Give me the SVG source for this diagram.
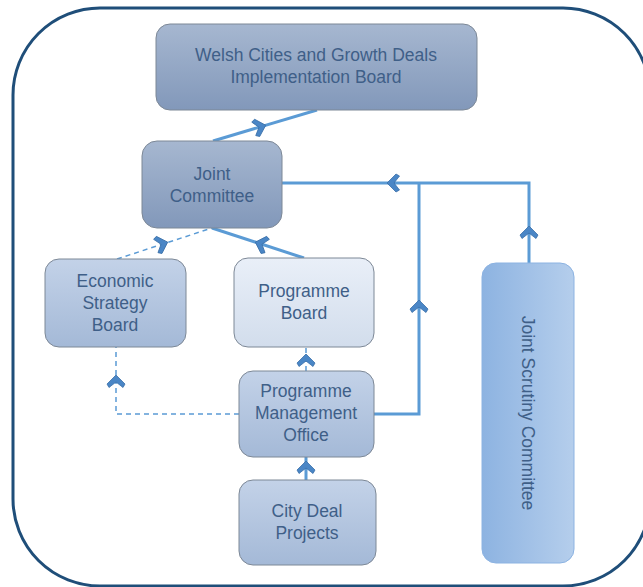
<svg xmlns="http://www.w3.org/2000/svg" xmlns:xlink="http://www.w3.org/1999/xlink" width="643" height="587" viewBox="0 0 643 587">
<defs>
<linearGradient id="gDark" x1="0" y1="0" x2="0" y2="1"><stop offset="0" stop-color="#a6b7d0"/><stop offset="1" stop-color="#8298ba"/></linearGradient>
<linearGradient id="gMid" x1="0" y1="0" x2="0" y2="1"><stop offset="0" stop-color="#c3d2e8"/><stop offset="1" stop-color="#a4b9d7"/></linearGradient>
<linearGradient id="gLight" x1="0" y1="0" x2="0" y2="1"><stop offset="0" stop-color="#e9eff8"/><stop offset="1" stop-color="#d2ddec"/></linearGradient>
<linearGradient id="gSide" x1="0" y1="0" x2="1" y2="0"><stop offset="0" stop-color="#8db3e1"/><stop offset="1" stop-color="#b5ceec"/></linearGradient>
<path id="chev" d="M0,-6 L9,3 L7,6.5 L0,1 L-7,6.5 L-9,3 Z"/>
</defs>
<style>
.node{stroke:#7d8896;stroke-width:1}
.lbl{font-family:"Liberation Sans",Arial,sans-serif;font-size:17.5px;fill:#3f5f88;text-anchor:middle}
.ln{fill:none;stroke:#5b9bd5;stroke-width:3}
.dash{fill:none;stroke:#5b9bd5;stroke-width:1.5;stroke-dasharray:5,4}
.ch{fill:#4a86c6;stroke:#3a6fa8;stroke-width:0.8}
</style>
<rect x="13" y="8" width="637" height="578" rx="87" ry="87" fill="#ffffff" stroke="#1f4e79" stroke-width="3"/>
<g id="connectors">
<line class="ln" x1="213" y1="141" x2="317" y2="110"/>
<use xlink:href="#chev" class="ch" transform="translate(260,127) rotate(73.4)"/>
<line class="ln" x1="304" y1="258" x2="212" y2="228"/>
<use xlink:href="#chev" class="ch" transform="translate(261,244) rotate(-72)"/>
<line class="dash" x1="117" y1="259" x2="212" y2="228"/>
<use xlink:href="#chev" class="ch" transform="translate(162,244) rotate(72)"/>
<line class="dash" x1="306" y1="371" x2="306" y2="347"/>
<use xlink:href="#chev" class="ch" transform="translate(306,360)"/>
<polyline class="dash" points="239,414 116,414 116,347"/>
<use xlink:href="#chev" class="ch" transform="translate(116,381)"/>
<line class="ln" x1="306" y1="480" x2="306" y2="457"/>
<use xlink:href="#chev" class="ch" transform="translate(306,467)"/>
<polyline class="ln" points="374,414 419,414 419,183"/>
<use xlink:href="#chev" class="ch" transform="translate(419,306)"/>
<polyline class="ln" points="529,263 529,183 282,183"/>
<use xlink:href="#chev" class="ch" transform="translate(529,232)"/>
<use xlink:href="#chev" class="ch" transform="translate(393,183) rotate(-90)"/>
</g>
<g id="welsh-board">
<rect class="node" x="156" y="24" width="321" height="86" rx="14" fill="url(#gDark)"/>
<text class="lbl" x="316" y="61">Welsh Cities and Growth Deals</text>
<text class="lbl" x="316" y="83">Implementation Board</text>
</g>
<g id="joint-committee">
<rect class="node" x="142" y="141" width="140" height="87" rx="15" fill="url(#gDark)"/>
<text class="lbl" x="212" y="180">Joint</text>
<text class="lbl" x="212" y="202">Committee</text>
</g>
<g id="economic-strategy-board">
<rect class="node" x="45" y="259" width="141" height="88" rx="14" fill="url(#gMid)"/>
<text class="lbl" x="115" y="287">Economic</text>
<text class="lbl" x="115" y="309">Strategy</text>
<text class="lbl" x="115" y="331">Board</text>
</g>
<g id="programme-board">
<rect class="node" x="234" y="258" width="140" height="89" rx="14" fill="url(#gLight)"/>
<text class="lbl" x="304" y="297">Programme</text>
<text class="lbl" x="304" y="319">Board</text>
</g>
<g id="programme-management-office">
<rect class="node" x="239" y="371" width="135" height="86" rx="14" fill="url(#gMid)"/>
<text class="lbl" x="306" y="397">Programme</text>
<text class="lbl" x="306" y="419">Management</text>
<text class="lbl" x="306" y="441">Office</text>
</g>
<g id="city-deal-projects">
<rect class="node" x="239" y="480" width="137" height="85" rx="14" fill="url(#gMid)"/>
<text class="lbl" x="307" y="517">City Deal</text>
<text class="lbl" x="307" y="539">Projects</text>
</g>
<g id="joint-scrutiny-committee">
<rect x="482" y="263" width="92" height="300" rx="14" fill="url(#gSide)" stroke="#8cb3e2" stroke-width="1"/>
<text class="lbl" transform="translate(528,413) rotate(90)" x="0" y="6">Joint Scrutiny Committee</text>
</g>
</svg>
